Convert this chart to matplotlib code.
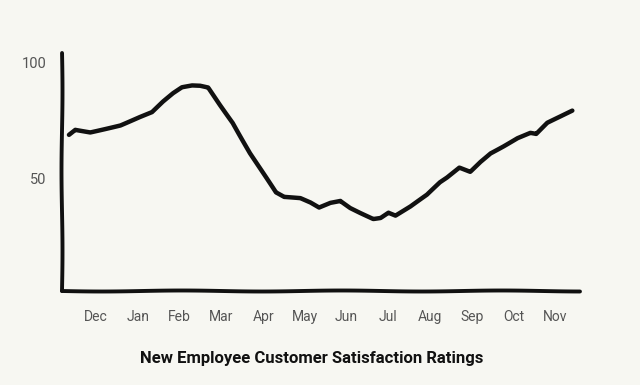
import matplotlib
matplotlib.use("Agg")
import matplotlib.pyplot as plt

# month labels along the bottom (Dec = position 0)
months = ["Dec", "Jan", "Feb", "Mar", "Apr", "May", "Jun",
          "Jul", "Aug", "Sep", "Oct", "Nov"]
month_pos = list(range(len(months)))
y_ticks = [50, 100]

# satisfaction rating, x in month units
rating_x = [-0.65, -0.50, -0.14, 0.34, 0.58, 1.05, 1.34, 1.61, 1.85, 2.06,
            2.30, 2.49, 2.68, 2.97, 3.28, 3.69, 4.10, 4.30, 4.50, 4.89,
            5.13, 5.34, 5.61, 5.85, 6.09, 6.33, 6.64, 6.81, 7.00, 7.17,
            7.53, 7.93, 8.24, 8.41, 8.70, 8.96, 9.20, 9.44, 9.75, 10.09,
            10.40, 10.54, 10.81, 11.12, 11.41]
rating_y = [68.8, 71.0, 70.0, 72.0, 73.0, 76.5, 78.5, 83.0, 86.5, 89.0,
            89.8, 89.7, 89.0, 81.6, 74.0, 61.0, 49.6, 44.0, 42.0, 41.5,
            39.7, 37.6, 39.7, 40.6, 37.6, 35.5, 32.9, 33.3, 35.5, 34.2,
            38.0, 43.0, 48.3, 50.4, 54.7, 53.0, 57.3, 61.0, 64.0, 67.5,
            69.7, 69.2, 73.9, 76.5, 79.0]

title = "New Employee Customer Satisfaction Ratings"
hand = ["Roboto", "DejaVu Sans"]
bg = "#f7f7f2"

plt.rcParams["path.sketch"] = (0.5, 160, 1.0)

fig = plt.figure(figsize=(6.4, 3.85), dpi=100, facecolor=bg)
ax = fig.add_axes([0.097, 0.245, 0.81, 0.618])
ax.set_facecolor(bg)

ax.plot(rating_x, rating_y, color="#111111", lw=3.2,
        solid_capstyle="round", solid_joinstyle="round")

ax.set_xlim(-0.815, 11.6)
ax.set_ylim(2.0, 104.0)

for side in ("top", "right"):
    ax.spines[side].set_visible(False)
for side in ("left", "bottom"):
    ax.spines[side].set_linewidth(2.8)
    ax.spines[side].set_color("#111111")
    ax.spines[side].set_capstyle("round")

ax.set_xticks(month_pos)
ax.set_xticklabels(months, family=hand, fontsize=10, color="#555555")
ax.set_yticks(y_ticks)
ax.set_yticklabels([str(v) for v in y_ticks], family=hand, fontsize=10.5,
                   color="#555555")
ax.tick_params(axis="x", length=0, pad=14)
ax.tick_params(axis="y", length=0, pad=11)

fig.text(312 / 640, 1 - 358 / 385, title, ha="center", va="center",
         family=hand, fontsize=12, fontweight="bold", color="#111111")

fig.savefig("out.png", dpi=100, facecolor=bg)
